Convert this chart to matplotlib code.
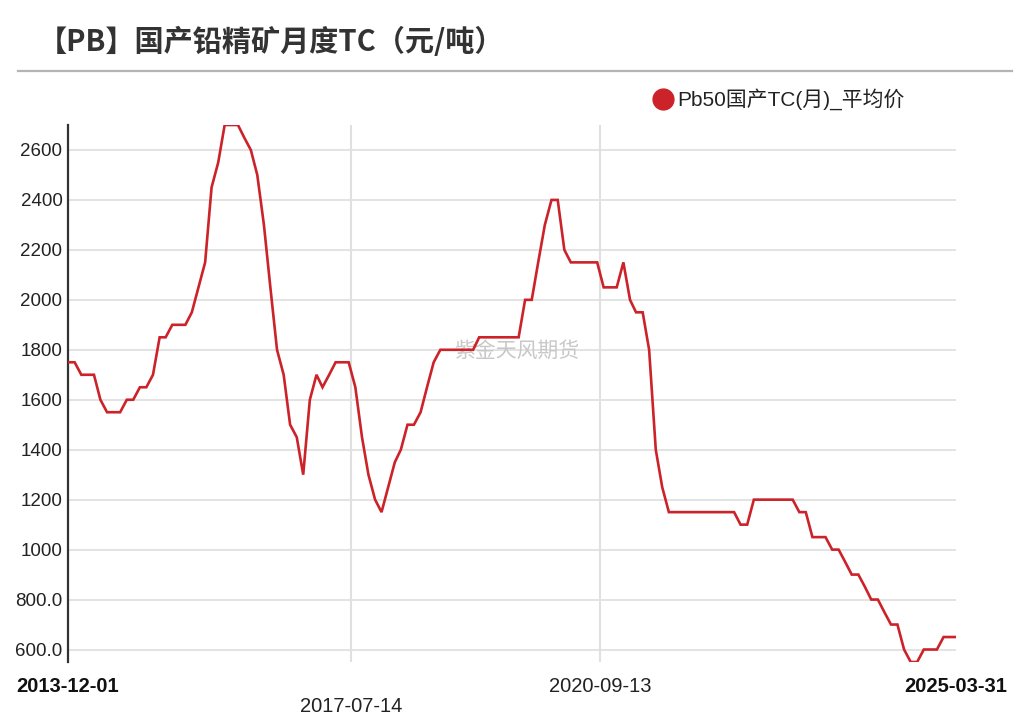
import pandas as pd
import numpy as np
import matplotlib
matplotlib.use('Agg')
import matplotlib.pyplot as plt
import matplotlib.transforms as mtransforms

# Pb50国产TC(月)_平均价, 元/吨, mensual desde 2013-12
tc = [
    1750, 1750, 1700, 1700, 1700, 1600, 1550, 1550, 1550, 1600, 1600, 1650,
    1650, 1700, 1850, 1850, 1900, 1900, 1900, 1950, 2050, 2150, 2450, 2550,
    2700, 2700, 2700, 2650, 2600, 2500, 2300, 2050, 1800, 1700, 1500, 1450,
    1300, 1600, 1700, 1650, 1700, 1750, 1750, 1750, 1650, 1450, 1300, 1200,
    1150, 1250, 1350, 1400, 1500, 1500, 1550, 1650, 1750, 1800, 1800, 1800,
    1800, 1800, 1800, 1850, 1850, 1850, 1850, 1850, 1850, 1850, 2000, 2000,
    2150, 2300, 2400, 2400, 2200, 2150, 2150, 2150, 2150, 2150, 2050, 2050,
    2050, 2150, 2000, 1950, 1950, 1800, 1400, 1250, 1150, 1150, 1150, 1150,
    1150, 1150, 1150, 1150, 1150, 1150, 1150, 1100, 1100, 1200, 1200, 1200,
    1200, 1200, 1200, 1200, 1150, 1150, 1050, 1050, 1050, 1000, 1000, 950,
    900, 900, 850, 800, 800, 750, 700, 700, 600, 550, 550, 600,
    600, 600, 650, 650, 650,
]
fechas = list(pd.date_range('2013-12-01', periods=len(tc) - 1, freq='MS')) + [pd.Timestamp('2025-03-31')]

y_ticks = [600, 800, 1000, 1200, 1400, 1600, 1800, 2000, 2200, 2400, 2600]
y_labels = ['600.0', '800.0', '1000', '1200', '1400', '1600', '1800', '2000', '2200', '2400', '2600']
x_ticks = ['2013-12-01', '2017-07-14', '2020-09-13', '2025-03-31']

ROJO = '#cc2229'
FUENTE = ['Liberation Sans', 'Noto Sans CJK SC', 'DejaVu Sans']

W, H = 1031, 719
fig = plt.figure(figsize=(W / 100, H / 100), dpi=100)
ax = fig.add_axes([68 / W, 1 - 662 / H, (956 - 68) / W, (662 - 125) / H])

ax.plot(fechas, tc, color=ROJO, linewidth=1.9, solid_joinstyle='miter', zorder=3)

x0 = pd.Timestamp(x_ticks[0])
x1 = pd.Timestamp(x_ticks[-1])
ax.set_xlim(x0, x1)
ax.set_ylim(550, 2700)

# --- rejilla ---
for v in y_ticks:
    ax.axhline(v, color='#e0e0e0', linewidth=1.3, zorder=1)
for d in x_ticks[1:3]:
    ax.axvline(pd.Timestamp(d), color='#e0e0e0', linewidth=1.5, zorder=1)

for s in ['top', 'right', 'bottom']:
    ax.spines[s].set_visible(False)
ax.spines['left'].set_color('#333333')
ax.spines['left'].set_linewidth(1.6)

ax.set_yticks(y_ticks)
ax.set_yticklabels(y_labels, family=FUENTE, fontsize=13.5, color='#222222')
ax.tick_params(axis='y', length=0, pad=4)
ax.set_xticks([])

# --- etiquetas de fecha ---
trans = mtransforms.blended_transform_factory(ax.transData, fig.transFigure)
filas = [686, 706, 686, 686]
negrita = [True, False, False, True]
for d, fy, b in zip(x_ticks, filas, negrita):
    ax.text(pd.Timestamp(d), 1 - fy / H, d, transform=trans, ha='center', va='center',
            family=FUENTE, fontsize=14.5, fontweight='bold' if b else 'normal',
            color='#111111' if b else '#222222')

# --- marca de agua ---
ax.text(0.505, 0.58, '紫金天风期货', transform=ax.transAxes, ha='center', va='center',
        family=['Noto Sans CJK SC'], fontsize=15, color='#c8c8c8', zorder=2)

# --- título ---
fig.text(38 / W, 1 - 42 / H, '【PB】国产铅精矿月度TC（元/吨）', ha='left', va='center',
         family=['Noto Sans CJK SC', 'DejaVu Sans'], fontsize=21, fontweight='bold', color='#333333')
fig.add_artist(plt.Line2D([18 / W, 1012 / W], [1 - 71 / H, 1 - 71 / H], color='#b4b4b4', linewidth=1.6))

# --- leyenda ---
fig.add_artist(plt.Line2D([663 / W], [1 - 99 / H], marker='o', markersize=15, color=ROJO, linestyle='none'))
fig.text(677 / W, 1 - 99 / H, 'Pb50国产TC(月)_平均价', ha='left', va='center',
         family=FUENTE, fontsize=15, color='#222222')

fig.savefig('out.png', dpi=100)
